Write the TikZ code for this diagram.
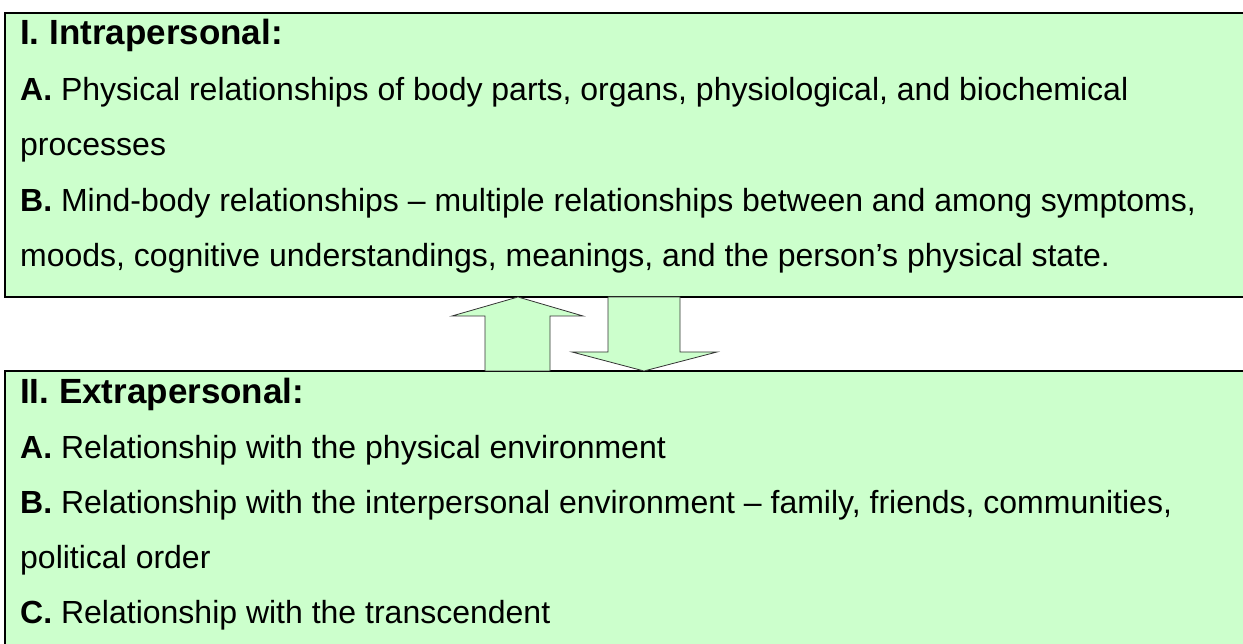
\documentclass[tikz,border=0pt]{standalone}
\usepackage{fontspec}
\setmainfont{Liberation Sans}
\definecolor{boxgreen}{HTML}{CCFFCC}
\begin{document}
\begin{tikzpicture}[x=1pt, y=1pt,
    line/.style={anchor=base west, inner sep=0pt, font=\fontsize{32}{38}\selectfont},
    heading/.style={line, font=\fontsize{35}{40}\selectfont\bfseries},
    panel/.style={draw=black, line width=2pt, fill=boxgreen},
    blockarrow/.style={draw=black!80, line width=0.8pt, fill=boxgreen, line join=miter}]
    \useasboundingbox (0,0) rectangle (1243,644);

    % Kasten oben
    \draw[panel] (5,631) rectangle (1300,347);
    \node[heading] (t0) at (20,599) {I. Intrapersonal:};
    \node[line] (t1) at (20,543) {\textbf{A.} Physical relationships of body parts, organs, physiological, and biochemical};
    \node[line] (t2) at (20,488) {processes};
    \node[line] (t3) at (20,432) {\textbf{B.} Mind-body relationships – multiple relationships between and among symptoms,};
    \node[line] (t4) at (20,377) {moods, cognitive understandings, meanings, and the person’s physical state.};

    % Kasten unten
    \draw[panel] (5,273) rectangle (1300,-40);
    \node[heading] (b0) at (20,240) {II. Extrapersonal:};
    \node[line] (b1) at (20,185) {\textbf{A.} Relationship with the physical environment};
    \node[line] (b2) at (20,130) {\textbf{B.} Relationship with the interpersonal environment – family, friends, communities,};
    \node[line] (b3) at (20,75) {political order};
    \node[line] (b4) at (20,20) {\textbf{C.} Relationship with the transcendent};

    % Pfeile dazwischen
    \draw[blockarrow] (485,273) -- (485,328) -- (452,328) -- (518,347)
        -- (583,328) -- (550,328) -- (550,273) -- cycle;
    \draw[blockarrow] (608,347) -- (608,292) -- (572,292) -- (644,273)
        -- (717,292) -- (680,292) -- (680,347) -- cycle;
\end{tikzpicture}
\end{document}
